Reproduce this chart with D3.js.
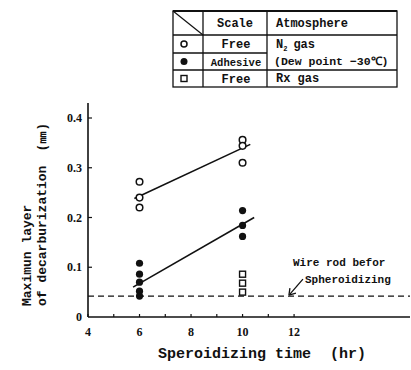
<!DOCTYPE html>
<html>
<head>
<meta charset="utf-8">
<script src="https://cdn.jsdelivr.net/npm/d3@7"></script>
<style>
  body { margin: 0; background: #fff; }
  text { font-family: "Liberation Mono", "DejaVu Sans Mono", monospace; font-weight: bold; fill: #111; }
  .tick-label { font-family: "Liberation Serif", "DejaVu Serif", serif; font-size: 12px; }
</style>
</head>
<body>
<svg id="chart" width="411" height="370"></svg>
<script>
const freeN2Time = [6, 6, 6, 10, 10, 10];
const freeN2Depth = [0.272, 0.24, 0.22, 0.356, 0.344, 0.31];

const adhesiveTime = [6, 6, 6, 6, 6, 10, 10, 10];
const adhesiveDepth = [0.108, 0.086, 0.07, 0.052, 0.042, 0.214, 0.184, 0.162];

const freeRxTime = [10, 10, 10];
const freeRxDepth = [0.086, 0.068, 0.05];

// fitted lines, drawn by hand in the original
const freeN2Fit = [[5.8, 0.238], [10.3, 0.347]];
const adhesiveFit = [[5.75, 0.06], [10.45, 0.2]];

const wireRodDepth = 0.042;

const xTicks = [4, 6, 8, 10, 12];
const xMinorTicks = [5, 7, 9, 11];
const yTicks = [0, 0.1, 0.2, 0.3, 0.4];

const legendRows = [
  { marker: "open", scale: "Free" },
  { marker: "filled", scale: "Adhesive" },
  { marker: "square", scale: "Free" }
];

const svg = d3.select("#chart");

const x = d3.scaleLinear().domain([4, 16.5]).range([88, 410]);
const y = d3.scaleLinear().domain([0, 0.4]).range([317, 118]);

// axes
const g = svg.append("g").attr("stroke", "#111").attr("stroke-width", 1.6);
g.append("line").attr("x1", x(4)).attr("x2", x(16.5)).attr("y1", y(0)).attr("y2", y(0));
g.append("line").attr("x1", x(4)).attr("x2", x(4)).attr("y1", y(0)).attr("y2", y(0.43));

g.selectAll(".xt").data(xTicks.concat(xMinorTicks)).join("line")
  .attr("x1", d => x(d)).attr("x2", d => x(d))
  .attr("y1", y(0)).attr("y2", y(0) - 3).attr("stroke-width", 1.2);
g.selectAll(".yt").data(yTicks.slice(1)).join("line")
  .attr("x1", x(4)).attr("x2", x(4) + 4)
  .attr("y1", d => y(d)).attr("y2", d => y(d)).attr("stroke-width", 1.2);

svg.selectAll(".xl").data(xTicks).join("text")
  .attr("class", "tick-label")
  .attr("x", d => x(d)).attr("y", 336)
  .attr("text-anchor", "middle")
  .text(d => d);
svg.selectAll(".yl").data(yTicks).join("text")
  .attr("class", "tick-label")
  .attr("x", x(4) - 6).attr("y", d => y(d) + 4)
  .attr("text-anchor", "end")
  .text(d => d === 0 ? "0" : d3.format(".1f")(d));

// axis titles
svg.append("text").attr("x", 158).attr("y", 358).attr("font-size", 15).text("Speroidizing time");
svg.append("text").attr("x", 330).attr("y", 358).attr("font-size", 15).text("(hr)");

const yt = svg.append("g").attr("font-size", 13);
yt.append("text").attr("transform", "translate(31,306) rotate(-90)").text("Maximun layer");
yt.append("text").attr("transform", "translate(46,306) rotate(-90)")
  .text("of decarburization")
  .append("tspan").attr("dx", 14).text("(㎜)");

// wire rod baseline
svg.append("line")
  .attr("x1", x(4)).attr("x2", x(16.5))
  .attr("y1", y(wireRodDepth)).attr("y2", y(wireRodDepth))
  .attr("stroke", "#111").attr("stroke-width", 1.2)
  .attr("stroke-dasharray", "6,4");

// fitted lines
const line = d3.line().x(d => x(d[0])).y(d => y(d[1]));
svg.selectAll(".fit").data([freeN2Fit, adhesiveFit]).join("path")
  .attr("d", line).attr("fill", "none")
  .attr("stroke", "#111").attr("stroke-width", 1.6);

// points
svg.selectAll(".open").data(d3.zip(freeN2Time, freeN2Depth)).join("circle")
  .attr("cx", d => x(d[0])).attr("cy", d => y(d[1])).attr("r", 3.3)
  .attr("fill", "#fff").attr("stroke", "#111").attr("stroke-width", 1.5);
svg.selectAll(".filled").data(d3.zip(adhesiveTime, adhesiveDepth)).join("circle")
  .attr("cx", d => x(d[0])).attr("cy", d => y(d[1])).attr("r", 3.6)
  .attr("fill", "#111");
svg.selectAll(".sq").data(d3.zip(freeRxTime, freeRxDepth)).join("rect")
  .attr("x", d => x(d[0]) - 3).attr("y", d => y(d[1]) - 3)
  .attr("width", 6).attr("height", 6)
  .attr("fill", "#fff").attr("stroke", "#111").attr("stroke-width", 1.4);

// annotation
const ax = x(11.8), ay = y(wireRodDepth);
svg.append("line").attr("x1", ax + 14).attr("y1", ay - 17).attr("x2", ax + 1).attr("y2", ay - 2)
  .attr("stroke", "#111").attr("stroke-width", 1.3);
svg.append("path")
  .attr("d", `M${ax},${ay - 1}l1,-7M${ax},${ay - 1}l7,-2`)
  .attr("stroke", "#111").attr("stroke-width", 1.3).attr("fill", "none");
svg.append("text").attr("x", 293).attr("y", 266).attr("font-size", 11).text("Wire rod befor");
svg.append("text").attr("x", 305).attr("y", 283).attr("font-size", 11).text("Spheroidizing");

// legend table
const lt = svg.append("g");
const tx0 = 173, tx1 = 203, tx2 = 267, tx3 = 397;
const rowY = [11, 35, 53, 70, 87];
const tb = lt.append("g").attr("stroke", "#111").attr("stroke-width", 1.3).attr("fill", "none");
tb.append("rect").attr("x", tx0).attr("y", rowY[0]).attr("width", tx3 - tx0).attr("height", rowY[4] - rowY[0]);
tb.append("line").attr("x1", tx0).attr("x2", tx3).attr("y1", rowY[0]).attr("y2", rowY[0]).attr("stroke-width", 2);
[tx1, tx2].forEach(v => tb.append("line").attr("x1", v).attr("x2", v).attr("y1", rowY[0]).attr("y2", rowY[4]));
tb.append("line").attr("x1", tx0).attr("x2", tx3).attr("y1", rowY[1]).attr("y2", rowY[1]);
tb.append("line").attr("x1", tx0).attr("x2", tx2).attr("y1", rowY[2]).attr("y2", rowY[2]);
tb.append("line").attr("x1", tx0).attr("x2", tx3).attr("y1", rowY[3]).attr("y2", rowY[3]);
tb.append("line").attr("x1", tx0).attr("x2", tx1).attr("y1", rowY[0]).attr("y2", rowY[1]);

lt.append("text").attr("x", 235).attr("y", 27).attr("font-size", 12).attr("text-anchor", "middle").text("Scale");
lt.append("text").attr("x", 276).attr("y", 27).attr("font-size", 12).text("Atmosphere");

legendRows.forEach((r, i) => {
  const cy = (rowY[i + 1] + rowY[i + 2]) / 2;
  const mx = 184;
  if (r.marker === "open") {
    lt.append("circle").attr("cx", mx).attr("cy", cy).attr("r", 3)
      .attr("fill", "#fff").attr("stroke", "#111").attr("stroke-width", 1.5);
  } else if (r.marker === "filled") {
    lt.append("circle").attr("cx", mx).attr("cy", cy).attr("r", 3.5).attr("fill", "#111");
  } else {
    lt.append("rect").attr("x", mx - 3).attr("y", cy - 3).attr("width", 6).attr("height", 6)
      .attr("fill", "#fff").attr("stroke", "#111").attr("stroke-width", 1.4);
  }
  lt.append("text").attr("x", 236).attr("y", cy + 4)
    .attr("font-size", r.scale === "Adhesive" ? 10.5 : 12)
    .attr("text-anchor", "middle").text(r.scale);
});

const n2 = lt.append("text").attr("x", 276).attr("y", 48).attr("font-size", 12);
n2.append("tspan").text("N");
n2.append("tspan").attr("font-size", 7).attr("dy", 3).text("2");
n2.append("tspan").attr("dy", -3).attr("dx", 6).text("gas");
lt.append("text").attr("x", 274).attr("y", 65).attr("font-size", 11.5).text("(Dew point −30℃)");
lt.append("text").attr("x", 276).attr("y", 82).attr("font-size", 12).text("Rx gas");
</script>
</body>
</html>
